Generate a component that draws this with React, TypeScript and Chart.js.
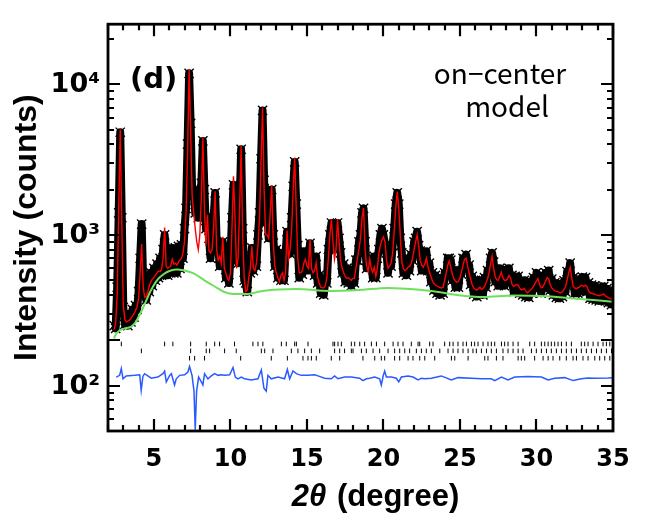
import React, { useEffect, useRef } from "react";
import { Chart, registerables } from "chart.js";

Chart.register(...registerables);

// 2θ grid of the observed / calculated profile (degrees)
const thetaStart = 2.4;
const thetaStep = 0.1;

// Observed intensities (black crosses)
const observed = [
  250, 240, 450, 1400, 4800, 1300, 330, 255, 290, 250,
  300, 265, 320, 285, 340, 320, 420, 700, 1180, 480,
  420, 370, 470, 420, 560, 460, 600, 500, 640, 520,
  700, 540, 800, 1000, 760, 540, 800, 560, 820, 560,
  820, 560, 840, 600, 860, 700, 1100, 1500, 4000, 11800,
  5500, 1900, 2000, 1400, 1900, 1300, 1800, 2200, 4200, 2000,
  1100, 1300, 950, 700, 1000, 1300, 1900, 900, 850, 620,
  850, 900, 750, 520, 650, 480, 700, 1300, 2150, 1500,
  700, 650, 1600, 3700, 1100, 500, 480, 420, 600, 560,
  820, 580, 720, 620, 1000, 1400, 3200, 6700, 2300, 1200,
  1500, 950, 1600, 2000, 1000, 620, 800, 520, 700, 500,
  760, 500, 750, 1050, 800, 750, 1300, 2100, 3050, 1600,
  850, 520, 720, 550, 780, 640, 760, 580, 880, 600,
  700, 540, 720, 480, 540, 410, 490, 400, 500, 480,
  800, 1000, 1200, 950, 800, 850, 1200, 950, 760, 560,
  640, 490, 600, 480, 590, 460, 590, 480, 680, 680,
  900, 1000, 1400, 1500, 900, 600, 680, 650, 700, 520,
  720, 520, 700, 800, 1000, 1100, 1000, 850, 760, 560,
  720, 620, 850, 1100, 1600, 1900, 1600, 950, 760, 560,
  680, 540, 700, 580, 740, 680, 900, 950, 1050, 850,
  780, 580, 700, 600, 780, 580, 650, 490, 560, 430,
  540, 410, 520, 400, 510, 410, 560, 540, 700, 700,
  680, 500, 580, 450, 550, 450, 580, 550, 700, 690,
  740, 600, 630, 470, 530, 405, 500, 390, 500, 420,
  500, 400, 520, 450, 580, 540, 700, 760, 660, 490,
  580, 460, 600, 540, 590, 460, 570, 480, 600, 490,
  540, 420, 530, 430, 530, 410, 490, 400, 500, 390,
  470, 385, 490, 410, 520, 440, 560, 490, 540, 410,
  510, 440, 560, 490, 580, 430, 510, 400, 480, 385,
  475, 380, 470, 390, 495, 420, 570, 540, 650, 490,
  520, 410, 500, 410, 510, 430, 525, 420, 520, 420,
  480, 380, 465, 375, 460, 370, 450, 365, 450, 370,
  455, 365, 440, 355, 430, 345, 420,
];

// Calculated profile (red line)
const calculated = [
  235, 260, 400, 1500, 5000, 1200, 340, 275, 265, 268,
  272, 280, 290, 300, 315, 335, 380, 560, 870, 450,
  385, 390, 420, 460, 490, 510, 520, 540, 560, 575,
  570, 590, 700, 1120, 620, 600, 610, 620, 690, 640,
  650, 630, 660, 680, 700, 760, 900, 1400, 3500, 12500,
  5000, 1800, 1400, 1100, 900, 800, 1000, 1800, 4450, 1500,
  850, 1360, 780, 760, 800, 1100, 1950, 800, 680, 720,
  650, 970, 600, 560, 515, 500, 560, 1100, 2450, 1300,
  600, 700, 1500, 3900, 1000, 520, 420, 430, 520, 600,
  840, 600, 580, 650, 850, 1300, 3000, 7000, 2000, 1000,
  1000, 950, 1400, 2130, 900, 620, 560, 520, 490, 540,
  560, 500, 560, 1070, 700, 800, 1100, 2000, 3260, 1500,
  700, 560, 560, 580, 650, 690, 620, 600, 930, 600,
  560, 580, 650, 520, 480, 450, 445, 445, 460, 520,
  700, 1000, 1270, 900, 690, 800, 1270, 900, 680, 600,
  560, 530, 515, 520, 510, 500, 515, 515, 600, 700,
  800, 950, 1300, 1510, 800, 620, 570, 690, 600, 565,
  610, 530, 600, 760, 850, 920, 970, 900, 680, 600,
  620, 650, 760, 1050, 1500, 1940, 1500, 1000, 660, 600,
  580, 590, 610, 620, 640, 700, 800, 900, 1000, 850,
  680, 630, 610, 640, 700, 620, 570, 530, 495, 475,
  465, 458, 452, 448, 445, 450, 500, 560, 630, 671,
  610, 550, 510, 495, 485, 490, 520, 570, 630, 690,
  700, 620, 560, 510, 465, 445, 435, 430, 440, 450,
  435, 440, 455, 480, 510, 560, 640, 723, 600, 530,
  505, 500, 530, 565, 520, 500, 500, 510, 538, 520,
  470, 455, 460, 470, 464, 445, 431, 435, 440, 425,
  413, 420, 431, 440, 455, 475, 495, 513, 470, 445,
  450, 470, 495, 520, 510, 465, 445, 435, 425, 422,
  420, 415, 413, 420, 435, 455, 500, 560, 608, 520,
  455, 445, 440, 445, 450, 462, 462, 455, 464, 455,
  425, 413, 410, 407, 405, 400, 398, 395, 398, 402,
  405, 395, 388, 382, 380, 376, 372,
];

// Background (green line)
const bgTheta = [2.4, 2.45, 2.75, 3.05, 3.5, 3.8, 4.3, 4.75, 5.2, 5.65, 6.1, 6.5, 7.0, 7.6, 8.3, 9.0, 9.6, 10.2, 11.0, 12.1, 14.3, 16.5, 18.4, 20.3, 22.5, 23.6, 24.7, 26.5, 28.5, 30.7, 32.9, 35.0];
const background = [205, 213, 232, 239, 245, 263, 330, 418, 500, 550, 580, 590, 580, 555, 500, 453, 418, 405, 405, 425, 437, 425, 431, 445, 431, 418, 401, 387, 396, 391, 375, 360];

// Difference curve (blue line, offset)
const diffTheta = [2.54, 2.76, 2.87, 2.98, 3.19, 3.74, 4.07, 4.17, 4.28, 4.39, 4.83, 5.26, 5.59, 5.70, 5.81, 6.03, 6.14, 6.35, 6.46, 6.68, 7.01, 7.22, 7.33, 7.49, 7.62, 7.70, 7.79, 7.92, 8.10, 8.20, 8.31, 8.53, 8.75, 8.97, 9.19, 9.40, 9.62, 9.95, 10.17, 10.32, 10.49, 10.71, 10.93, 11.36, 11.80, 12.02, 12.19, 12.34, 12.45, 12.67, 13.11, 13.54, 13.72, 13.87, 14.09, 14.31, 14.63, 15.07, 15.50, 15.72, 16.16, 16.59, 16.81, 17.03, 17.46, 17.90, 18.44, 18.66, 18.88, 19.10, 19.43, 19.75, 19.86, 19.99, 20.08, 20.19, 20.52, 20.84, 21.00, 21.17, 21.61, 21.93, 22.26, 22.48, 22.70, 23.13, 23.78, 24.44, 24.87, 25.75, 26.40, 27.05, 27.27, 27.71, 28.14, 28.58, 29.45, 30.32, 30.76, 31.19, 31.85, 32.39, 32.93, 33.37, 33.81, 34.68, 35.0];
const difference = [114, 117, 130, 111, 116, 117, 118, 93, 115, 120, 112, 114, 120, 125, 106, 117, 120, 101, 111, 117, 118, 123, 134, 117, 92, 51, 92, 114, 106, 101, 120, 111, 116, 120, 117, 118, 117, 118, 132, 114, 111, 114, 111, 109, 111, 127, 96, 92, 117, 111, 114, 111, 128, 111, 125, 120, 117, 117, 118, 116, 112, 111, 116, 111, 114, 114, 112, 108, 111, 112, 114, 111, 101, 117, 125, 114, 114, 112, 106, 114, 116, 114, 109, 112, 111, 112, 116, 109, 113, 112, 111, 111, 108, 114, 109, 114, 115, 114, 109, 112, 113, 108, 111, 112.5, 112, 112.5, 113];

// Bragg reflection positions of the three phases
const phase1 = [2.87, 5.70, 6.24, 7.40, 8.42, 8.97, 9.29, 10.27, 11.47, 11.80, 12.12, 13.33, 13.65, 14.20, 14.31, 15.07, 16.70, 16.81, 17.03, 17.25, 17.90, 18.12, 18.45, 18.77, 19.21, 19.54, 20.08, 20.63, 20.95, 21.28, 21.82, 22.26, 22.37, 23.02, 23.24, 24.00, 24.33, 24.55, 24.87, 25.20, 25.42, 25.75, 25.96, 26.18, 26.51, 26.83, 27.05, 27.27, 27.71, 27.92, 28.14, 28.47, 28.80, 29.56, 29.88, 30.32, 30.54, 30.76, 30.97, 31.19, 31.41, 31.63, 31.95, 32.28, 32.93, 33.15, 33.37, 33.70, 34.02, 34.35, 34.57, 34.79];
const phase2 = [4.18, 7.40, 8.42, 8.64, 9.62, 10.38, 12.02, 12.24, 12.78, 13.98, 14.41, 14.85, 15.29, 15.83, 16.81, 17.14, 17.46, 17.90, 18.01, 18.56, 18.88, 19.32, 19.75, 20.30, 20.73, 21.06, 21.39, 21.71, 22.15, 22.48, 22.80, 23.13, 23.68, 24.22, 24.55, 24.87, 25.20, 25.53, 25.85, 26.07, 26.40, 26.73, 27.05, 27.38, 27.81, 28.14, 28.47, 28.80, 29.12, 29.67, 29.99, 30.32, 30.65, 30.97, 31.30, 31.63, 31.95, 32.28, 32.61, 32.93, 33.26, 33.59, 33.92, 34.24, 34.57, 34.90];
const phase3 = [7.33, 7.66, 8.31, 10.67, 12.67, 13.72, 14.74, 15.07, 15.29, 15.61, 16.59, 17.14, 18.66, 19.43, 19.86, 20.08, 20.73, 21.06, 21.61, 21.93, 22.37, 22.70, 23.35, 24.44, 24.66, 25.53, 26.62, 26.83, 27.38, 27.81, 28.80, 29.01, 29.23, 29.88, 30.43, 30.76, 31.08, 31.52, 31.95, 32.39, 32.61, 33.04, 33.37, 33.81, 34.13, 34.46, 34.79];
const phaseLevels = [189, 170, 152];

const xTickValues = [5, 10, 15, 20, 25, 30, 35];
const yTickValues = [100, 1000, 10000];
const yTickLabels = ["10²", "10³", "10⁴"];

const TITLE_FONT = '"Liberation Sans", Arial, sans-serif';
const TICK_FONT = '"DejaVu Sans", sans-serif';

const framePlugin = {
  id: "frameTicks",
  afterDraw(chart: any) {
    const { ctx, chartArea: a, scales } = chart;
    const x = scales.x;
    const y = scales.y;
    ctx.save();
    ctx.strokeStyle = "#000";
    ctx.lineCap = "butt";
    ctx.lineWidth = 2.2;
    ctx.beginPath();
    for (let d = Math.ceil(x.min); d <= x.max; d++) {
      const px = Math.round(x.getPixelForValue(d));
      const len = d % 5 === 0 ? 12 : 6;
      ctx.moveTo(px, a.bottom);
      ctx.lineTo(px, a.bottom - len);
      ctx.moveTo(px, a.top);
      ctx.lineTo(px, a.top + len);
    }
    for (let dec = 10; dec <= 10000; dec *= 10) {
      for (let m = 1; m <= 9; m++) {
        const v = m * dec;
        if (v < y.min || v > y.max) continue;
        const py = Math.round(y.getPixelForValue(v));
        const len = m === 1 || v === 200 ? 12 : 6;
        ctx.moveTo(a.left, py);
        ctx.lineTo(a.left + len, py);
        ctx.moveTo(a.right, py);
        ctx.lineTo(a.right - len, py);
      }
    }
    ctx.stroke();
    ctx.lineWidth = 2.8;
    ctx.strokeRect(a.left, a.top, a.right - a.left, a.bottom - a.top);

    // x-axis title: italic 2θ + (degree)
    ctx.fillStyle = "#000";
    ctx.textBaseline = "alphabetic";
    ctx.textAlign = "left";
    const part1 = "2θ";
    const part2 = " (degree)";
    ctx.font = `italic bold 31px ${TITLE_FONT}`;
    const w1 = ctx.measureText(part1).width;
    ctx.font = `bold 31px ${TITLE_FONT}`;
    const w2 = ctx.measureText(part2).width;
    const cx = (a.left + a.right) / 2 + 14;
    const x0 = cx - (w1 + w2) / 2;
    ctx.font = `italic bold 31px ${TITLE_FONT}`;
    ctx.fillText(part1, x0, a.bottom + 75);
    ctx.font = `bold 31px ${TITLE_FONT}`;
    ctx.fillText(part2, x0 + w1 + 2, a.bottom + 75);

    // panel label and model name
    ctx.font = `bold 29px ${TICK_FONT}`;
    ctx.fillText("(d)", a.left + 22, a.top + 64);
    ctx.font = `28px "Noto Sans CJK JP", "DejaVu Sans", sans-serif`;
    ctx.textAlign = "center";
    ctx.fillText("on−center", a.left + 392, a.top + 60);
    ctx.fillText("model", a.left + 399, a.top + 93);
    ctx.restore();
  },
};

export default function App() {
  const ref = useRef<HTMLCanvasElement>(null);

  useEffect(() => {
    if (!ref.current) return;
    const theta = observed.map((_, i) => Math.round((thetaStart + i * thetaStep) * 100) / 100);
    const pts = (xs: number[], ys: number[]) => xs.map((xv, i) => ({ x: xv, y: ys[i] }));
    const tickPts = (xs: number[], level: number) => xs.map((xv) => ({ x: xv, y: level }));

    const tickDataset = (xs: number[], level: number) => ({
      data: tickPts(xs, level),
      showLine: false,
      pointStyle: "line",
      rotation: 90,
      pointRadius: 2.3,
      pointBorderWidth: 1,
      pointBorderColor: "#000",
      borderColor: "#000",
      order: 2,
    });

    const chart = new Chart(ref.current, {
      type: "scatter",
      data: {
        datasets: [
          {
            label: "calculated",
            data: pts(theta, calculated),
            showLine: true,
            borderColor: "rgb(255,0,0)",
            borderWidth: 1.4,
            pointRadius: 0,
            tension: 0,
            order: 0,
          },
          {
            label: "background",
            data: pts(bgTheta, background),
            showLine: true,
            borderColor: "rgb(110,225,90)",
            borderWidth: 2,
            pointRadius: 0,
            cubicInterpolationMode: "monotone",
            order: 1,
          },
          {
            label: "observed",
            data: pts(theta, observed),
            showLine: true,
            borderColor: "#000",
            borderWidth: 8,
            borderJoinStyle: "round",
            pointStyle: "crossRot",
            pointRadius: 6.5,
            pointBorderWidth: 1.4,
            pointBorderColor: "#000",
            pointBackgroundColor: "rgba(0,0,0,0)",
            order: 3,
          },
          {
            label: "difference",
            data: pts(diffTheta, difference),
            showLine: true,
            borderColor: "rgb(40,90,255)",
            borderWidth: 1.5,
            pointRadius: 0,
            order: 2,
          },
          tickDataset(phase1, phaseLevels[0]),
          tickDataset(phase2, phaseLevels[1]),
          tickDataset(phase3, phaseLevels[2]),
        ] as any,
      },
      options: {
        responsive: false,
        animation: false,
        devicePixelRatio: 1,
        layout: { padding: { left: 0, right: 36, top: 10, bottom: 0 } },
        plugins: { legend: { display: false }, tooltip: { enabled: false } },
        scales: {
          x: {
            type: "linear",
            min: 2,
            max: 35,
            afterFit: (s: any) => {
              s.height = 84;
            },
            afterBuildTicks: (s: any) => {
              s.ticks = xTickValues.map((v) => ({ value: v }));
            },
            grid: { display: false, drawTicks: false },
            border: { display: false },
            ticks: {
              color: "#000",
              padding: 14,
              maxRotation: 0,
              autoSkip: false,
              font: { family: TICK_FONT, weight: "bold", size: 24 },
              callback: (v: any) => String(v),
            },
          },
          y: {
            type: "logarithmic",
            min: 50,
            max: 25000,
            afterFit: (s: any) => {
              s.width = 108;
            },
            afterBuildTicks: (s: any) => {
              s.ticks = yTickValues.map((v) => ({ value: v }));
            },
            grid: { display: false, drawTicks: false },
            border: { display: false },
            ticks: {
              color: "#000",
              padding: 8,
              labelOffset: 1,
              autoSkip: false,
              font: { family: TICK_FONT, weight: "bold", size: 27 },
              callback: (v: any) => {
                const i = yTickValues.indexOf(Number(v));
                return i >= 0 ? yTickLabels[i] : "";
              },
            },
            title: {
              display: true,
              text: "Intensity (counts)",
              color: "#000",
              font: { family: TITLE_FONT, weight: "bold", size: 32 },
              padding: { top: 8, bottom: 0 },
            },
          },
        },
      } as any,
      plugins: [framePlugin],
    });
    return () => chart.destroy();
  }, []);

  return (
    <div style={{ position: "fixed", left: 0, top: 0, width: 649, height: 515, background: "#fff" }}>
      <canvas ref={ref} width={649} height={515} style={{ display: "block", width: 649, height: 515 }} />
    </div>
  );
}
